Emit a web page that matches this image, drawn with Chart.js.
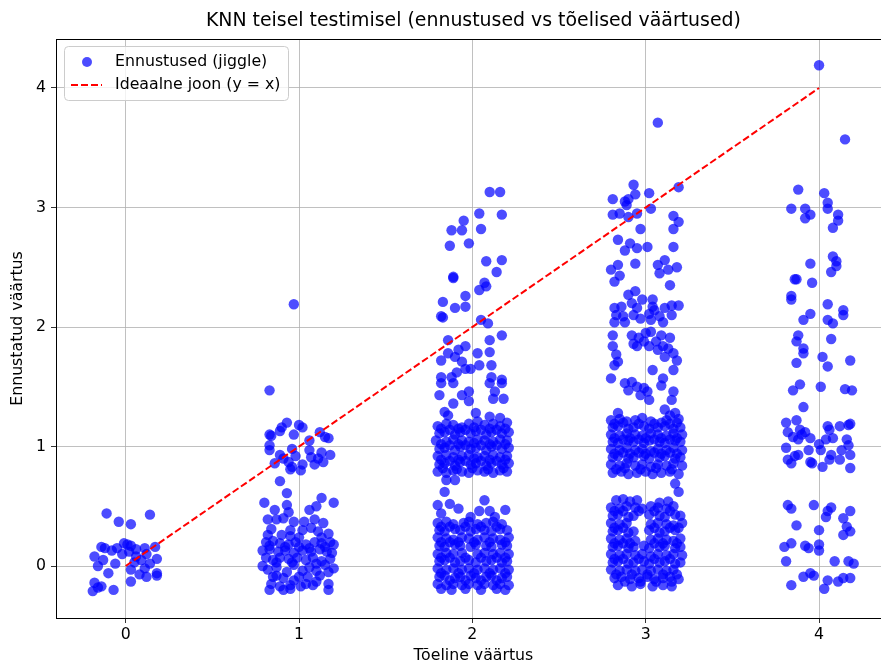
<!DOCTYPE html>
<html>
<head>
<meta charset="utf-8">
<title>KNN teisel testimisel</title>
<script src="https://cdn.jsdelivr.net/npm/chart.js@4.4.1/dist/chart.umd.min.js"></script>
<style>
  html, body { margin: 0; padding: 0; background: #fff; }
  #wrap { width: 881px; height: 664px; overflow: hidden; }
</style>
</head>
<body>
<div id="wrap"><canvas id="knnChart" width="896" height="664"></canvas></div>
<script>
// ---------- andmed: [tõeline väärtus + jiggle, ennustus] ----------
const jiggle0 = [
  [-0.11,0.44],[-0.04,0.37],[0.03,0.35],[0.14,0.43],
  [-0.14,0.16],[-0.12,0.15],[-0.05,0.15],[-0.01,0.19],[0.01,0.18],[0.03,0.17],[0.11,0.15],[0.17,0.16],[0.06,0.14],
  [-0.18,0.08],[-0.13,0.05],[-0.06,0.02],[-0.16,0.0],[-0.1,-0.06],[0.02,0.12],[0.06,0.08],[0.12,0.1],[0.18,0.06],
  [0.05,0.03],[0.09,0.05],[0.14,0.02],[0.03,-0.03],[0.11,-0.02],[0.18,-0.06],[0.18,-0.08],[0.03,-0.13],[0.12,-0.09],
  [0.08,-0.07],[-0.18,-0.14],[-0.19,-0.21],[-0.14,-0.17],[-0.07,-0.2],[-0.16,-0.18],[-0.02,0.1],[-0.08,0.13]
];

const jiggle1 = [
  [0.83,1.47],[0.97,2.19],
  [0.83,1.10],[0.84,1.09],[0.90,1.16],[0.93,1.2],[0.89,1.13],[0.97,1.1],[1.02,1.16],[1.0,1.18],[1.15,1.08],
  [1.17,1.07],[1.12,1.12],[0.83,1.01],[0.96,0.98],[1.06,1.05],
  [0.83,0.97],[0.89,0.93],[0.86,0.86],[0.94,0.87],[0.96,0.83],[1.02,0.85],[1.07,0.91],[1.09,0.85],[1.13,0.95],
  [1.18,0.93],[1.14,0.87],[1.06,0.97],[1.01,0.8],[0.95,0.81],[0.91,0.9],[1.11,0.9],[0.98,0.92],[0.89,0.71],
  [0.93,0.61],[0.80,0.53],[1.13,0.57],[1.2,0.53],[0.86,0.47],[0.93,0.51],[0.94,0.45],[1.06,0.47],[1.10,0.50],
  [0.82,0.39],[0.87,0.39],[0.91,0.40],[0.97,0.37],[1.03,0.37],[1.09,0.39],[1.14,0.36],[0.95,0.30],[1.02,0.30],
  [1.07,0.32],[1.11,0.29],[0.95,0.25],[1.0,0.24],[0.84,0.31],[1.17,0.27],
  [0.81,0.20],[0.85,0.21],[0.89,0.19],[0.94,0.18],[0.98,0.20],[1.04,0.18],[1.09,0.20],[1.13,0.19],[1.18,0.20],[1.2,0.18],
  [0.79,0.13],[0.83,0.14],[0.88,0.12],[0.92,0.13],[0.97,0.11],[1.02,0.13],[1.07,0.12],[1.12,0.14],[1.16,0.12],[1.19,0.11],
  [0.81,0.07],[0.85,0.05],[0.89,0.07],[0.94,0.06],[0.99,0.07],[1.04,0.05],[1.08,0.07],[1.13,0.04],[1.18,0.06],
  [0.79,0.0],[0.87,-0.01],[0.97,0.01],[1.15,0.01],[1.2,-0.02],[1.06,-0.01],
  [0.87,-0.08],[0.91,-0.1],[0.84,-0.15],[0.89,-0.17],[0.95,-0.16],[1.0,-0.09],[1.05,-0.09],[1.04,-0.15],[1.1,-0.13],
  [1.12,-0.08],[1.17,-0.05],[1.17,-0.15],[1.17,-0.2],[0.95,-0.19],[0.91,-0.2],[1.08,-0.16],[1.01,-0.17],[0.85,-0.09],
  [0.82,-0.03],[0.97,-0.12],[0.83,-0.2],
  [0.83,0.17],[0.92,0.16],[1.0,0.16],[1.06,0.15],[1.15,0.16],[0.87,0.03],[0.96,0.03],[1.1,0.02],[0.82,0.26],
  [0.9,0.26],[1.13,0.24],[0.93,-0.05],[1.02,-0.04],[1.1,-0.04]
];

const jiggle2 = [
  [2.10,3.13],[2.16,3.13],[2.04,2.95],[2.17,2.94],[1.95,2.89],[1.88,2.81],[1.94,2.81],[2.05,2.82],[1.87,2.68],
  [1.98,2.70],[2.08,2.55],[2.17,2.56],[2.14,2.46],[1.89,2.41],[1.89,2.42],[2.07,2.37],[2.04,2.31],[2.08,2.34],
  [1.83,2.21],[1.96,2.26],[1.90,2.16],[1.96,2.17],[1.82,2.09],[1.83,2.08],[2.05,2.06],[2.09,2.03],[2.17,1.93],
  [2.10,1.89],[1.86,1.89],[1.96,1.84],[1.92,1.81],[1.86,1.78],[1.82,1.72],[1.90,1.75],[1.94,1.71],[2.03,1.78],
  [2.10,1.79],[2.04,1.68],[2.11,1.68],[1.99,1.65],[1.91,1.62],[1.96,1.65],[1.82,1.58],[1.88,1.58],[2.11,1.58],[2.17,1.56],
  [1.82,1.53],[1.89,1.53],[1.81,1.43],[1.94,1.43],[1.98,1.46],[1.98,1.38],[1.89,1.36],[1.84,1.29],[1.86,1.26],
  [2.02,1.28],[2.10,1.53],[2.17,1.53],[2.13,1.46],[2.12,1.40],[2.18,1.40],[2.10,1.25],[2.16,1.24],
  [1.80,1.17],[1.85,1.19],[1.89,1.18],[1.94,1.16],[1.98,1.19],[2.03,1.21],[2.07,1.18],[2.12,1.19],[2.16,1.17],[2.20,1.20],
  [1.81,1.11],[1.84,1.12],[1.90,1.10],[1.93,1.12],[1.99,1.11],[2.02,1.13],[2.08,1.10],[2.11,1.12],[2.17,1.11],[2.21,1.12],
  [1.79,1.05],[1.85,1.04],[1.89,1.06],[1.94,1.05],[1.98,1.04],[2.03,1.06],[2.07,1.05],[2.12,1.04],[2.16,1.06],[2.20,1.05],
  [1.81,0.98],[1.84,0.99],[1.90,0.97],[1.93,1.0],[1.99,0.98],[2.02,0.99],[2.08,0.97],[2.11,1.0],[2.17,0.98],[2.21,0.99],
  [1.80,0.92],[1.85,0.93],[1.89,0.91],[1.94,0.92],[1.98,0.93],[2.03,0.91],[2.07,0.92],[2.12,0.93],[2.16,0.91],[2.20,0.92],
  [1.81,0.85],[1.84,0.86],[1.90,0.84],[1.93,0.87],[1.99,0.85],[2.02,0.86],[2.08,0.84],[2.11,0.86],[2.17,0.85],[2.21,0.86],
  [1.80,0.79],[1.85,0.78],[1.89,0.80],[1.94,0.79],[1.98,0.78],[2.03,0.80],[2.07,0.79],[2.12,0.78],[2.16,0.80],[2.20,0.79],
  [1.82,1.15],[1.87,1.14],[1.92,1.15],[1.96,1.14],[2.01,1.16],[2.05,1.14],[2.10,1.15],[2.14,1.14],[2.19,1.15],
  [1.82,1.02],[1.87,1.01],[1.92,1.02],[1.96,1.01],[2.01,1.03],[2.05,1.01],[2.10,1.02],[2.14,1.01],[2.19,1.02],
  [1.82,0.89],[1.87,0.88],[1.92,0.89],[1.96,0.88],[2.01,0.90],[2.05,0.88],[2.10,0.89],[2.14,0.88],[2.19,0.89],
  [1.83,0.82],[1.91,0.81],[2.00,0.82],[2.09,0.81],[2.18,0.82],
  [1.85,0.72],[1.84,0.62],[1.90,0.72],
  [1.80,0.51],[1.87,0.52],[1.92,0.48],[1.82,0.44],[2.07,0.55],[2.04,0.46],[2.10,0.46],[2.19,0.47],[1.99,0.41],[2.13,0.41],
  [1.80,0.36],[1.85,0.37],[1.89,0.35],[1.95,0.36],[1.98,0.37],[2.03,0.35],[2.08,0.36],[2.12,0.37],[2.17,0.35],
  [1.81,0.30],[1.84,0.29],[1.90,0.31],[1.93,0.30],[1.99,0.29],[2.02,0.31],[2.07,0.30],[2.11,0.29],[2.16,0.31],[2.20,0.30],
  [1.80,0.24],[1.85,0.23],[1.89,0.22],[1.94,0.24],[1.98,0.23],[2.03,0.22],[2.07,0.24],[2.12,0.23],[2.16,0.22],[2.21,0.24],
  [1.81,0.17],[1.84,0.16],[1.90,0.18],[1.93,0.17],[1.99,0.16],[2.02,0.18],[2.08,0.17],[2.11,0.16],[2.17,0.18],[2.20,0.17],
  [1.80,0.10],[1.85,0.11],[1.89,0.10],[1.94,0.11],[2.03,0.10],[2.07,0.11],[2.12,0.10],[2.16,0.11],[2.21,0.10],
  [1.81,0.04],[1.84,0.05],[1.90,0.03],[1.93,0.04],[1.98,0.05],[2.02,0.03],[2.08,0.04],[2.11,0.05],[2.17,0.03],[2.20,0.04],
  [1.80,-0.02],[1.85,-0.03],[1.89,-0.02],[1.94,-0.03],[1.98,-0.02],[2.03,-0.03],[2.07,-0.02],[2.12,-0.03],[2.16,-0.02],[2.21,-0.03],
  [1.81,-0.09],[1.84,-0.08],[1.90,-0.10],[1.93,-0.09],[1.99,-0.08],[2.02,-0.10],[2.08,-0.09],[2.11,-0.08],[2.17,-0.10],[2.20,-0.09],
  [1.80,-0.15],[1.85,-0.16],[1.89,-0.15],[1.94,-0.16],[1.98,-0.15],[2.03,-0.16],[2.07,-0.15],[2.12,-0.16],[2.16,-0.15],[2.21,-0.16],
  [1.82,-0.19],[1.88,-0.2],[1.96,-0.19],[2.05,-0.2],[2.14,-0.19],[2.19,-0.2],
  [1.82,0.33],[1.87,0.33],[1.96,0.33],[2.05,0.33],[2.14,0.33],
  [1.82,0.20],[1.87,0.20],[1.92,0.20],[2.01,0.20],[2.10,0.20],[2.19,0.20],
  [1.82,0.07],[1.87,0.07],[1.96,0.07],[2.05,0.07],[2.14,0.07],[2.19,0.07],
  [1.82,-0.06],[1.92,-0.06],[2.01,-0.06],[2.10,-0.06],[2.19,-0.06],
  [1.87,-0.12],[1.96,-0.12],[2.05,-0.12],[2.14,-0.12]
];

const jiggle3 = [
  [3.07,3.71],[2.93,3.19],[3.02,3.12],[3.19,3.17],[2.81,3.07],[2.88,3.05],[2.90,3.07],[2.89,3.02],[2.94,3.11],
  [3.03,2.99],[2.81,2.94],[2.85,2.95],[2.90,2.92],[2.95,2.95],[3.16,2.93],[3.19,2.88],[3.16,2.82],[2.97,2.82],
  [2.84,2.73],[2.91,2.70],[2.88,2.64],[2.95,2.66],[3.01,2.67],[3.16,2.67],[2.80,2.48],[2.84,2.52],[2.85,2.43],
  [2.82,2.38],[2.94,2.53],[3.07,2.52],[3.11,2.56],[3.08,2.45],[3.13,2.48],[3.18,2.50],[3.14,2.35],[2.90,2.27],
  [2.94,2.30],[2.98,2.23],[3.04,2.23],
  [2.82,2.16],[2.86,2.17],[2.83,2.10],[2.87,2.09],[2.82,2.04],[2.88,2.04],[2.92,2.20],[2.95,2.16],[2.93,2.10],
  [2.97,2.07],[3.02,2.11],[3.05,2.14],[3.08,2.09],[3.04,2.17],[3.11,2.16],[3.15,2.18],[3.19,2.18],[3.15,2.10],
  [3.10,2.04],[3.03,2.06],
  [2.81,1.93],[2.81,1.84],[2.83,1.77],[2.84,1.71],[2.82,1.68],[2.92,1.93],[2.93,1.86],[2.96,1.91],[3.0,1.95],
  [3.03,1.96],[3.06,1.88],[3.09,1.93],[3.07,1.81],[3.10,1.84],[3.14,1.91],[3.13,1.82],[3.18,1.72],[3.16,1.78],
  [3.02,1.84],[2.95,1.84],[3.11,1.75],[2.99,1.88],
  [2.80,1.57],[3.04,1.64],[3.16,1.64],[3.10,1.57],[3.09,1.51],[2.88,1.53],[2.92,1.54],[2.95,1.50],[2.90,1.47],
  [2.99,1.49],[2.97,1.43],[3.02,1.39],[3.01,1.46],[3.16,1.46],[3.15,1.39],[2.84,1.28],[3.11,1.31],[3.14,1.26],[3.17,1.28],
  [2.80,1.22],[2.85,1.23],[2.89,1.21],[2.94,1.22],[2.98,1.24],[3.03,1.21],[3.12,1.22],[3.19,1.23],
  [2.81,1.16],[2.84,1.17],[2.90,1.15],[2.93,1.16],[2.99,1.17],[3.02,1.15],[3.07,1.16],[3.11,1.17],[3.16,1.15],[3.20,1.16],
  [2.80,1.10],[2.85,1.09],[2.89,1.11],[2.94,1.10],[2.98,1.09],[3.03,1.11],[3.07,1.10],[3.12,1.09],[3.16,1.11],[3.21,1.10],
  [2.81,1.04],[2.84,1.03],[2.90,1.05],[2.93,1.04],[2.99,1.03],[3.02,1.05],[3.08,1.04],[3.11,1.03],[3.17,1.05],[3.20,1.04],
  [2.80,0.98],[2.85,0.97],[2.89,0.99],[2.94,0.97],[2.98,0.98],[3.03,0.96],[3.07,0.98],[3.12,0.97],[3.16,0.99],[3.21,0.97],
  [2.81,0.91],[2.84,0.92],[2.90,0.90],[2.93,0.91],[2.99,0.92],[3.02,0.90],[3.08,0.91],[3.11,0.92],[3.17,0.90],[3.20,0.91],
  [2.80,0.85],[2.85,0.84],[2.89,0.86],[2.94,0.84],[2.98,0.85],[3.03,0.83],[3.07,0.85],[3.12,0.84],[3.16,0.86],[3.21,0.84],
  [2.81,0.78],[2.86,0.79],[2.90,0.77],[2.95,0.78],[3.00,0.79],[3.04,0.77],[3.09,0.78],[3.14,0.79],[3.19,0.77],
  [2.82,1.19],[2.87,1.20],[2.96,1.19],[3.05,1.19],[3.09,1.20],[3.14,1.19],[3.18,1.20],
  [2.82,1.07],[2.87,1.06],[2.91,1.07],[2.96,1.06],[3.00,1.07],[3.05,1.06],[3.09,1.07],[3.14,1.06],[3.18,1.07],
  [2.82,0.94],[2.87,0.95],[2.91,0.94],[2.96,0.95],[3.00,0.94],[3.05,0.95],[3.09,0.94],[3.14,0.95],[3.18,0.94],
  [2.83,0.81],[2.88,0.82],[2.97,0.81],[3.06,0.82],[3.15,0.81],
  [3.17,0.69],[3.19,0.62],
  [2.83,0.55],[2.87,0.56],[2.91,0.54],[2.95,0.55],[3.08,0.53],[3.13,0.54],
  [2.80,0.49],[2.85,0.48],[2.89,0.50],[2.94,0.49],[2.98,0.48],[3.03,0.50],[3.07,0.49],[3.12,0.48],[3.16,0.50],
  [2.81,0.42],[2.84,0.43],[2.90,0.41],[2.93,0.42],[3.02,0.43],[3.08,0.42],[3.11,0.41],[3.17,0.43],[3.20,0.42],
  [2.80,0.36],[2.85,0.35],[2.89,0.36],[3.03,0.35],[3.07,0.36],[3.12,0.35],[3.16,0.34],[3.21,0.36],
  [2.81,0.29],[2.84,0.30],[2.90,0.28],[2.93,0.29],[3.02,0.30],[3.08,0.28],[3.11,0.29],[3.17,0.30],
  [2.80,0.23],[2.85,0.22],[2.89,0.23],[2.94,0.21],[3.03,0.22],[3.07,0.23],[3.12,0.22],[3.16,0.21],[3.20,0.23],
  [2.81,0.16],[2.84,0.17],[2.90,0.15],[2.93,0.16],[2.99,0.17],[3.02,0.15],[3.08,0.16],[3.11,0.17],[3.17,0.15],[3.20,0.16],
  [2.80,0.10],[2.85,0.09],[2.89,0.10],[2.94,0.09],[2.98,0.10],[3.03,0.08],[3.07,0.10],[3.12,0.09],[3.16,0.10],[3.21,0.09],
  [2.81,0.03],[2.84,0.04],[2.90,0.02],[2.93,0.03],[2.99,0.04],[3.02,0.02],[3.08,0.03],[3.11,0.04],[3.17,0.02],[3.20,0.03],
  [2.80,-0.03],[2.85,-0.04],[2.89,-0.03],[2.94,-0.04],[2.98,-0.03],[3.03,-0.04],[3.07,-0.03],[3.12,-0.04],[3.16,-0.03],
  [2.82,-0.10],[2.86,-0.09],[2.91,-0.11],[2.96,-0.10],[3.01,-0.09],[3.05,-0.11],[3.10,-0.10],[3.14,-0.09],[3.19,-0.11],
  [2.84,-0.16],[2.92,-0.17],[2.97,-0.15],[3.04,-0.17],[3.10,-0.16],[3.15,-0.17],
  [2.82,0.46],[2.87,0.46],[2.96,0.46],[3.05,0.46],[3.14,0.46],
  [2.82,0.32],[2.87,0.32],[3.05,0.32],[3.14,0.32],[3.19,0.32],
  [2.82,0.19],[2.87,0.19],[2.91,0.19],[3.05,0.19],[3.10,0.19],[3.18,0.19],
  [2.82,0.06],[2.87,0.06],[2.96,0.06],[3.05,0.06],[3.14,0.06],
  [2.83,-0.07],[2.92,-0.07],[3.01,-0.07],[3.10,-0.07],[3.18,-0.07],
  [2.88,-0.13],[2.97,-0.13],[3.06,-0.13],[3.15,-0.13]
];

const jiggle4 = [
  [4.00,4.19],[4.15,3.57],[3.88,3.15],[4.03,3.12],[3.84,2.99],[3.92,2.99],[4.05,3.04],[4.05,2.99],[3.95,2.94],
  [3.92,2.91],[4.11,2.94],[4.11,2.89],[4.08,2.83],[4.08,2.59],[4.10,2.55],[4.10,2.51],[4.07,2.46],[3.95,2.53],
  [3.86,2.40],[3.87,2.40],[3.96,2.37],[3.84,2.26],[3.84,2.23],[4.05,2.19],[4.14,2.14],[4.14,2.10],[3.95,2.11],
  [3.91,2.06],[4.05,2.06],[4.08,2.03],
  [3.88,1.93],[3.87,1.88],[4.07,1.90],[3.91,1.82],[3.91,1.78],[3.87,1.70],[4.02,1.75],[4.05,1.67],[4.18,1.72],
  [3.89,1.52],[3.85,1.47],[4.01,1.50],[4.15,1.48],[4.19,1.47],[3.91,1.33],
  [3.81,1.20],[3.87,1.22],[3.82,1.12],[3.85,1.08],[3.89,1.14],[3.92,1.12],[3.95,1.07],[3.88,1.06],[4.05,1.17],
  [4.06,1.14],[4.12,1.17],[4.17,1.18],[4.18,1.19],[4.04,1.06],[4.08,1.07],[4.16,1.06],[3.81,0.99],[3.86,0.92],
  [3.82,0.89],[3.94,0.97],[4.01,0.97],[4.07,0.93],[4.13,0.97],[4.17,1.01],[4.18,0.93],[3.96,0.86],[3.95,0.87],
  [4.02,0.83],[4.06,0.89],[4.12,0.89],[4.18,0.82],[3.84,0.86],[3.88,0.93],[3.90,1.10],[4.00,1.02],
  [3.82,0.51],[3.84,0.48],[3.97,0.51],[4.05,0.46],[4.07,0.49],[4.04,0.41],[4.18,0.46],[4.14,0.40],[4.16,0.33],
  [4.14,0.26],[4.18,0.29],[3.87,0.34],[4.00,0.30],[3.80,0.16],[3.84,0.19],[3.92,0.17],[3.94,0.15],[4.00,0.18],
  [4.00,0.13],[3.81,0.04],[4.09,0.04],[4.17,0.04],[4.20,0.02],[3.91,-0.09],[3.95,-0.06],[3.97,-0.08],[4.05,-0.12],
  [3.84,-0.16],[4.03,-0.19],[4.11,-0.13],[4.14,-0.10],[4.18,-0.10]
];

// ideaalne joon y = x
const idealX = [0, 4];
const idealY = [0, 4];

const xTicks = [0, 1, 2, 3, 4];
const yTicks = [0, 1, 2, 3, 4];

const FONT = "'DejaVu Sans', sans-serif";
const DOT = 'rgba(0, 0, 255, 0.7)';

const allPoints = [...jiggle0, ...jiggle1, ...jiggle2, ...jiggle3, ...jiggle4]
  .map(([x, y]) => ({ x, y }));
const idealLine = idealX.map((x, i) => ({ x, y: idealY[i] }));

// ---------- tekstid, raam ja legend ----------
const decorPlugin = {
  id: 'decor',
  afterDraw(chart) {
    const { ctx, chartArea: a } = chart;
    ctx.save();

    // raam
    ctx.strokeStyle = '#000';
    ctx.lineWidth = 1;
    ctx.strokeRect(a.left + 0.5, a.top + 0.5, a.right - a.left, a.bottom - a.top);

    const cx = (a.left + a.right) / 2;
    ctx.fillStyle = '#000';
    ctx.textAlign = 'center';
    ctx.textBaseline = 'middle';
    ctx.font = `18.9px ${FONT}`;
    ctx.fillText('KNN teisel testimisel (ennustused vs tõelised väärtused)', cx, 21);

    ctx.font = `15.75px ${FONT}`;
    ctx.fillText('Tõeline väärtus', cx, 656);
    ctx.save();
    ctx.translate(18, (a.top + a.bottom) / 2);
    ctx.rotate(-Math.PI / 2);
    ctx.fillText('Ennustatud väärtus', 0, 0);
    ctx.restore();

    // legend
    const lx = 64.5, ly = 46.5, lw = 224, lh = 54;
    ctx.beginPath();
    ctx.roundRect(lx, ly, lw, lh, 4);
    ctx.fillStyle = 'rgba(255,255,255,0.8)';
    ctx.fill();
    ctx.strokeStyle = '#cccccc';
    ctx.stroke();

    ctx.beginPath();
    ctx.arc(87, 62, 5, 0, Math.PI * 2);
    ctx.fillStyle = DOT;
    ctx.fill();

    ctx.beginPath();
    ctx.setLineDash([7, 3]);
    ctx.moveTo(71, 85);
    ctx.lineTo(102, 85);
    ctx.strokeStyle = 'red';
    ctx.lineWidth = 2;
    ctx.stroke();
    ctx.setLineDash([]);

    ctx.fillStyle = '#000';
    ctx.textAlign = 'left';
    ctx.font = `15.75px ${FONT}`;
    ctx.fillText('Ennustused (jiggle)', 115, 62);
    ctx.fillText('Ideaalne joon (y = x)', 115, 85);

    ctx.restore();
  }
};

const gridStyle = {
  color: '#b0b0b0',
  lineWidth: 0.8,
  tickColor: '#000',
  tickLength: 5
};

new Chart(document.getElementById('knnChart'), {
  type: 'scatter',
  data: {
    datasets: [
      {
        type: 'line',
        label: 'Ideaalne joon (y = x)',
        data: idealLine,
        borderColor: 'red',
        borderWidth: 2,
        borderDash: [7, 3],
        pointRadius: 0,
        fill: false,
        order: 0
      },
      {
        label: 'Ennustused (jiggle)',
        data: allPoints,
        backgroundColor: DOT,
        borderWidth: 0,
        pointRadius: 5.2,
        order: 1
      }
    ]
  },
  options: {
    responsive: false,
    animation: false,
    devicePixelRatio: 1,
    layout: { padding: { top: 39, right: 2, left: 0, bottom: 0 } },
    plugins: {
      legend: { display: false },
      title: { display: false },
      tooltip: { enabled: false }
    },
    scales: {
      x: {
        type: 'linear',
        min: -0.402,
        max: 4.414,
        afterBuildTicks: s => { s.ticks = xTicks.map(v => ({ value: v })); },
        afterFit: s => { s.height = 46; },
        grid: gridStyle,
        border: { display: false },
        ticks: { color: '#000', font: { family: FONT, size: 15.75 }, padding: 2 }
      },
      y: {
        type: 'linear',
        min: -0.435,
        max: 4.41,
        afterBuildTicks: s => { s.ticks = yTicks.map(v => ({ value: v })); },
        afterFit: s => { s.width = 56; },
        grid: gridStyle,
        border: { display: false },
        ticks: { color: '#000', font: { family: FONT, size: 15.75 }, padding: 5 }
      }
    }
  },
  plugins: [decorPlugin]
});
</script>
</body>
</html>
